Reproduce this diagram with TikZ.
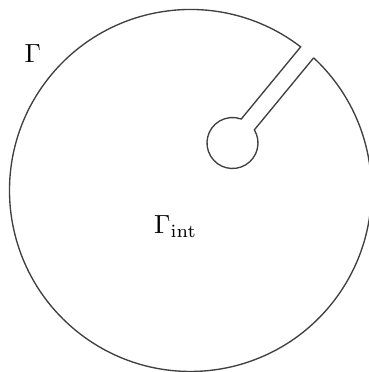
\documentclass[tikz,border=0pt]{standalone}
\usepackage{graphicx}
\begin{document}
\begin{tikzpicture}[x=1pt,y=1pt,
  contour/.style={draw=black!75, line width=1.35pt, line join=miter},
  lbl/.style={inner sep=0pt}]
\useasboundingbox (0,0) rectangle (369,372);
\clip (0,0) rectangle (369,372);
% keyhole contour: outer circle O=(190.5,181.5), R=181; small circle C=(232.5,229), r=25.5
\coordinate (ro) at (313.66,314.15);
\coordinate (ri) at (254.35,242.15);
\coordinate (li) at (241.22,252.96);
\coordinate (lo) at (300.67,325.12);
\draw[contour] (ro) -- (ri)
  arc[start angle=31.03, end angle=-290.03, radius=25.5] -- (lo)
  arc[start angle=52.5, end angle=407.13, radius=181] -- cycle;
\node[lbl, anchor=base west] (gamma) at (24.5,309) {\scalebox{2.62}{$\Gamma$}};
\node[lbl, anchor=base west] (gint) at (154,138.7) {\scalebox{2.62}{$\Gamma_{\mathrm{int}}$}};
\end{tikzpicture}
\end{document}
